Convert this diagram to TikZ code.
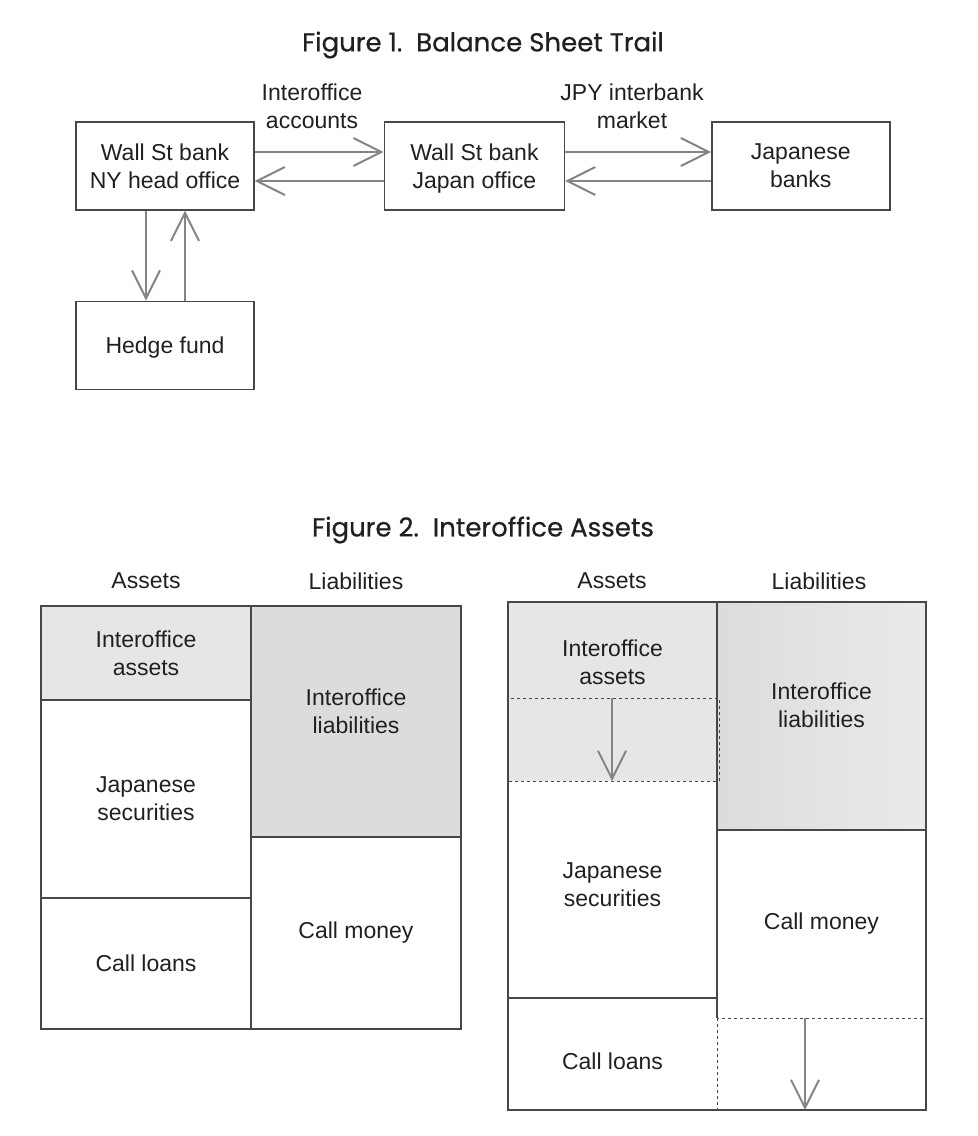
\documentclass[tikz,border=0pt]{standalone}
\usepackage{fontspec}
\setmainfont{Liberation Sans}
\newfontfamily\titlefont{Poppins}[FakeBold=0.6]
\usepackage{tikz}
\usetikzlibrary{arrows.meta,positioning}
\definecolor{inkblack}{HTML}{231F20}
\definecolor{edgegrey}{HTML}{474747}
\definecolor{arrowgrey}{HTML}{858585}
\definecolor{assetgrey}{HTML}{E6E6E8}
\definecolor{liabgrey}{HTML}{DCDCDE}
\tikzset{
    x=0.5pt, y=-0.5pt,
    every node/.style={text=inkblack, font=\fontsize{11.5}{14}\selectfont},
    bank/.style={rectangle, draw=edgegrey, line width=0.7pt, align=center,
        text depth=0pt, minimum width=89pt, minimum height=44pt},
    sheetbox/.style={rectangle, draw=edgegrey, line width=0.7pt, align=center,
        minimum width=105pt, outer sep=0pt},
    sheettext/.style={align=center},
    sheetline/.style={draw=edgegrey, line width=0.7pt},
    dotted line/.style={draw=edgegrey, line width=0.5pt, dash pattern=on 1.5pt off 1.5pt},
    flow/.style={-{Straight Barb[length=14pt,width=14pt,line width=1pt]}, line width=1pt, arrowgrey},
    caption/.style={font=\titlefont\fontsize{13}{15}\selectfont}
}

\begin{document}
\begin{tikzpicture}
        \useasboundingbox (0,0) rectangle (978,1136);
        % Figure 1
        \node[caption] (fig1title) at (483,45) {Figure 1.\ \ Balance Sheet Trail};
        \node[bank] (nyoffice) at (165,166) {Wall St bank\\NY head office};
        \node[bank, minimum width=90pt] (japanoffice) [right=64.5pt of nyoffice] {Wall St bank\\Japan office};
        \node[bank] (japanbanks) [right=73pt of japanoffice] {Japanese\\banks};
        \node[bank] (hedgefund) [below=45pt of nyoffice] {Hedge fund};
        % Label the two markets
        \node[align=center] (accounts) at (312,106) {Interoffice\\accounts};
        \node[align=center] (interbank) at (632,106) {JPY interbank\\market};
        % Draw the flows
        \draw[flow] ([yshift=7pt]nyoffice.east) -- ([yshift=7pt]japanoffice.west);
        \draw[flow] ([yshift=-7.5pt]japanoffice.west) -- ([yshift=-7.5pt]nyoffice.east);
        \draw[flow] ([yshift=7pt]japanoffice.east) -- ([yshift=7pt]japanbanks.west);
        \draw[flow] ([yshift=-7.5pt]japanbanks.west) -- ([yshift=-7.5pt]japanoffice.east);
        \draw[flow] ([xshift=-9.5pt]nyoffice.south) -- ([xshift=-9.5pt]hedgefund.north);
        \draw[flow] ([xshift=10pt]hedgefund.north) -- ([xshift=10pt]nyoffice.south);
        % Figure 2
        \node[caption] (fig2title) at (483,530) {Figure 2.\ \ Interoffice Assets};
        \node (assetsA) at (146,581) {Assets};
        \node (liabA) at (356,581) {Liabilities};
        \node (assetsB) at (612,581) {Assets};
        \node (liabB) at (819,581) {Liabilities};
        % Balance sheet before
        \node[sheetbox, fill=assetgrey, minimum height=47pt, anchor=north] (ioassetsA) at (146,606) {Interoffice\\assets};
        \node[sheetbox, minimum height=99pt] (jsecA) [below=0pt of ioassetsA] {Japanese\\securities};
        \node[sheetbox, minimum height=65.5pt] (callloansA) [below=0pt of jsecA] {Call loans};
        \node[sheetbox, fill=liabgrey, minimum height=115.5pt, anchor=north west,
            label={[align=center, yshift=5pt]center:{Interoffice\\liabilities}}] (ioliabA) at (ioassetsA.north east) {};
        \node[sheetbox, minimum height=96pt] (callmoneyA) [below=0pt of ioliabA] {Call money};
        % Balance sheet after
        \fill[assetgrey] (508,602) rectangle (717,781);
        \shade[left color=liabgrey, right color=liabgrey!60!white] (717,602) rectangle (926,830);
        \node[sheettext] (ioassetsB) at (612.5,662) {Interoffice\\assets};
        \node[sheettext] (ioliabB) at (821.5,705) {Interoffice\\liabilities};
        \node[sheettext] (jsecB) at (612.5,885) {Japanese\\securities};
        \node[sheettext] (callmoneyB) at (821.5,924) {Call money};
        \node[sheettext] (callloansB) at (612.5,1061) {Call loans};
        \draw[sheetline] (508,602) rectangle (926,1110);
        \draw[sheetline] (717,602) -- (717,1018);
        \draw[sheetline] (717,830) -- (926,830);
        \draw[sheetline] (508,998) -- (717,998);
        \draw[dotted line] (508,698) rectangle (719,781);
        \draw[dotted line] (717,1018) rectangle (926,1110);
        % Shrinking positions
        \draw[flow] (612,698) -- (612,781);
        \draw[flow] (805,1018) -- (805,1110);
    \end{tikzpicture}
\end{document}
